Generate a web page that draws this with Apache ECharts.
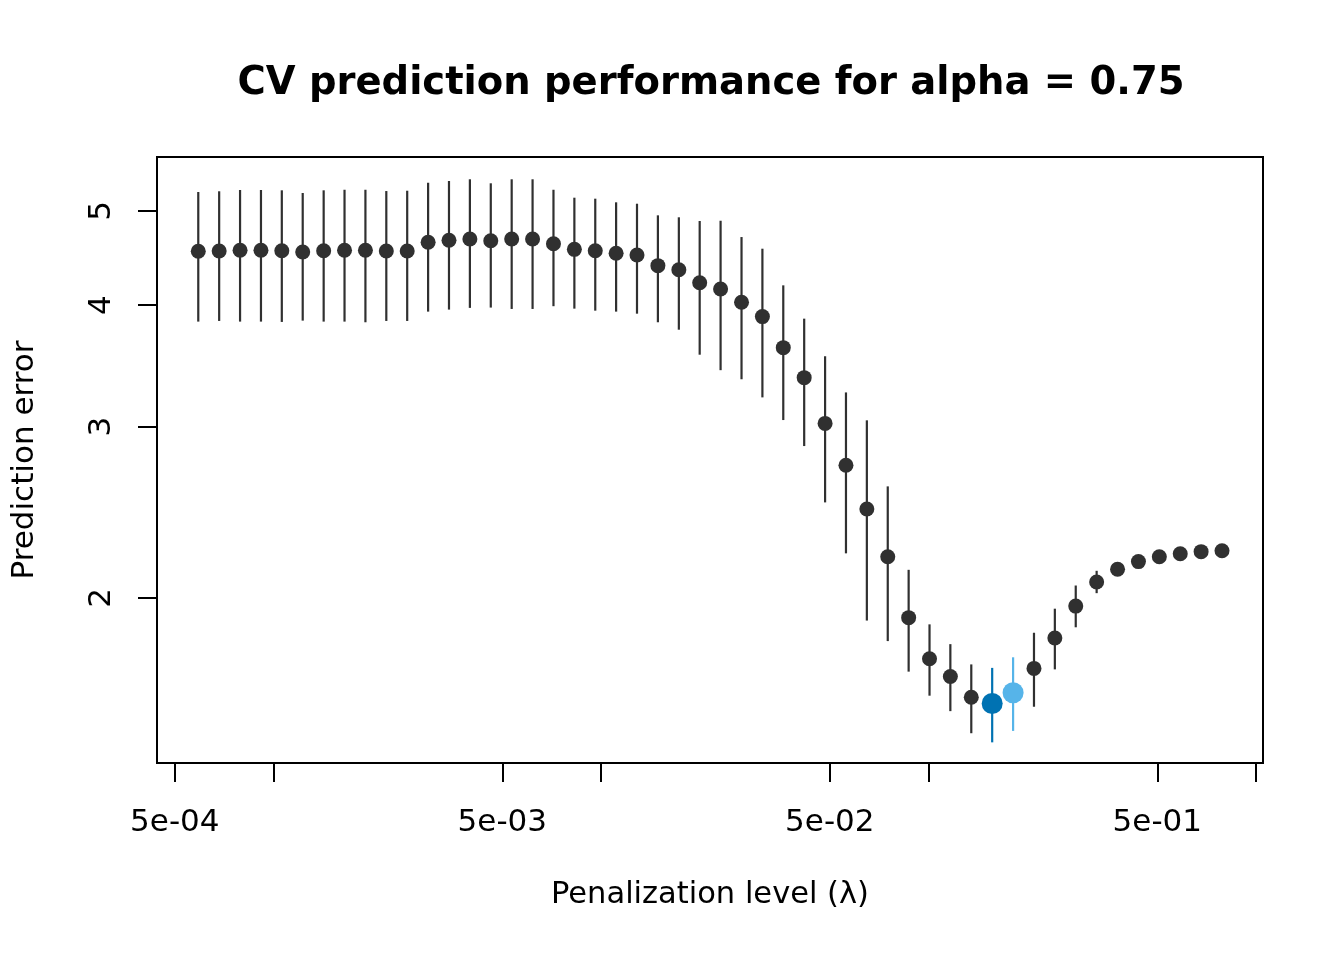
<!DOCTYPE html>
<html>
<head>
<meta charset="utf-8">
<script src="https://cdn.jsdelivr.net/npm/echarts@6/dist/echarts.min.js"></script>
<style>
  html, body { margin: 0; padding: 0; background: #fff; }
  #main { width: 1344px; height: 960px; }
</style>
</head>
<body>
<div id="main"></div>
<script>
// penalization levels (lambda) on the CV grid
var lambda = [5.897e-4, 6.830e-4, 7.911e-4, 9.164e-4, 1.061e-3, 1.229e-3, 1.424e-3, 1.649e-3, 1.910e-3, 2.212e-3,
  2.562e-3, 2.968e-3, 3.437e-3, 3.981e-3, 4.611e-3, 5.341e-3, 6.186e-3, 7.165e-3, 8.299e-3, 9.612e-3,
  1.113e-2, 1.289e-2, 1.493e-2, 1.730e-2, 2.003e-2, 2.320e-2, 2.688e-2, 3.113e-2, 3.605e-2, 4.176e-2,
  4.837e-2, 5.602e-2, 6.488e-2, 7.515e-2, 8.704e-2, 0.1008, 0.1167, 0.1352, 0.1566, 0.1814,
  0.2101, 0.2433, 0.2818, 0.3264, 0.3781, 0.4379, 0.5072, 0.5875, 0.6804, 0.7881];

// CV prediction error: estimate, lower and upper end of the bar
var cvMean = [4.545, 4.548, 4.556, 4.556, 4.551, 4.537, 4.551, 4.556, 4.556, 4.548,
  4.548, 4.643, 4.665, 4.679, 4.660, 4.679, 4.679, 4.627, 4.566, 4.551,
  4.524, 4.505, 4.393, 4.351, 4.219, 4.157, 4.029, 3.894, 3.618, 3.370,
  3.024, 2.739, 2.469, 2.205, 1.909, 1.732, 1.661, 1.581, 1.558, 1.598,
  1.693, 1.819, 1.962, 2.077, 2.141, 2.180, 2.205, 2.221, 2.232, 2.237];
var cvLower = [3.848, 3.854, 3.848, 3.848, 3.845, 3.857, 3.848, 3.848, 3.842, 3.854,
  3.854, 3.940, 3.959, 3.975, 3.978, 3.965, 3.965, 3.991, 3.968, 3.949,
  3.940, 3.921, 3.842, 3.775, 3.558, 3.430, 3.357, 3.216, 3.048, 2.866,
  2.508, 2.223, 1.896, 1.806, 1.680, 1.587, 1.530, 1.452, 1.421, 1.460,
  1.546, 1.689, 1.866, 2.023, 2.121, 2.165, 2.195, 2.213, 2.225, 2.231];
var cvUpper = [5.230, 5.239, 5.255, 5.255, 5.251, 5.218, 5.251, 5.258, 5.258, 5.242,
  5.246, 5.346, 5.368, 5.390, 5.339, 5.390, 5.390, 5.258, 5.160, 5.148,
  5.104, 5.087, 4.949, 4.926, 4.883, 4.886, 4.701, 4.573, 4.193, 3.875,
  3.545, 3.254, 3.046, 2.605, 2.138, 1.879, 1.793, 1.709, 1.695, 1.738,
  1.842, 1.950, 2.060, 2.133, 2.161, 2.195, 2.215, 2.229, 2.239, 2.243];

var bestIdx = 38;   // minimum CV error
var oneSeIdx = 39;  // 1-SE rule

// axis ticks
var xLabelValues = [5e-4, 5e-3, 5e-2, 5e-1];
var xLabelTexts = ['5e-04', '5e-03', '5e-02', '5e-01'];
var xTickValues = [5e-4, 1e-3, 5e-3, 1e-2, 5e-2, 1e-1, 5e-1, 1];
var yTickValues = [2, 3, 4, 5];

var colDark = '#303030', colBest = '#0072B2', colOneSe = '#56B4E9';
var font = 'DejaVu Sans';

function lg(v) { return Math.log10(v); }
function colorAt(i) { return i === bestIdx ? colBest : (i === oneSeIdx ? colOneSe : colDark); }

var barData = lambda.map(function (l, i) { return [lg(l), lg(cvLower[i]), lg(cvUpper[i])]; });
var pointData = lambda.map(function (l, i) {
  var big = (i === bestIdx || i === oneSeIdx);
  return { value: [lg(l), lg(cvMean[i])], symbolSize: big ? 21 : 15, itemStyle: { color: colorAt(i) } };
});

function nearestLabel(v, vals, texts) {
  for (var i = 0; i < vals.length; i++) {
    if (Math.abs(lg(vals[i]) - v) < 1e-6) return texts[i];
  }
  return '';
}

var myChart = echarts.init(document.getElementById('main'));

var option = {
  animation: false,
  backgroundColor: '#ffffff',
  title: {
    text: 'CV prediction performance for alpha = 0.75',
    left: 706,
    textAlign: 'center',
    top: 59,
    textStyle: { fontFamily: font, fontSize: 38.5, fontWeight: 'bold', color: '#000' }
  },
  grid: {
    left: 157, right: 81, top: 157, bottom: 197,
    show: true, borderColor: '#000', borderWidth: 2, backgroundColor: 'transparent'
  },
  xAxis: {
    type: 'value',
    min: -3.35538,
    max: 0.02172,
    name: 'Penalization level (λ)',
    nameLocation: 'middle',
    nameGap: 117,
    nameTextStyle: { fontFamily: font, fontSize: 30.5, color: '#000' },
    axisLine: { show: false, onZero: false },
    splitLine: { show: false },
    axisTick: {
      show: true, length: 19, inside: false,
      customValues: xTickValues.map(lg),
      lineStyle: { color: '#000', width: 2 }
    },
    axisLabel: {
      show: true, margin: 44,
      customValues: xLabelValues.map(lg),
      fontFamily: font, fontSize: 31, color: '#000',
      formatter: function (v) { return nearestLabel(v, xLabelValues, xLabelTexts); }
    }
  },
  yAxis: {
    type: 'value',
    min: 0.13136,
    max: 0.7545,
    name: 'Prediction error',
    nameLocation: 'middle',
    nameRotate: 90,
    nameGap: 117,
    nameTextStyle: { fontFamily: font, fontSize: 31, color: '#000' },
    axisLine: { show: false, onZero: false },
    splitLine: { show: false },
    axisTick: {
      show: true, length: 19, inside: false,
      customValues: yTickValues.map(lg),
      lineStyle: { color: '#000', width: 2 }
    },
    axisLabel: {
      show: true, margin: 40, rotate: 90,
      customValues: yTickValues.map(lg),
      fontFamily: font, fontSize: 31, color: '#000',
      formatter: function (v) { return nearestLabel(v, yTickValues, yTickValues.map(String)); }
    }
  },
  series: [
    {
      name: 'CV error range',
      type: 'custom',
      z: 2,
      data: barData,
      encode: { x: 0, y: [1, 2] },
      renderItem: function (params, api) {
        var p1 = api.coord([api.value(0), api.value(1)]);
        var p2 = api.coord([api.value(0), api.value(2)]);
        return {
          type: 'line',
          shape: { x1: p1[0], y1: p1[1], x2: p2[0], y2: p2[1] },
          style: { stroke: colorAt(params.dataIndex), lineWidth: 2.2 }
        };
      }
    },
    {
      name: 'CV error',
      type: 'scatter',
      z: 3,
      symbol: 'circle',
      itemStyle: { opacity: 1 },
      data: pointData
    }
  ]
};

myChart.setOption(option);
</script>
</body>
</html>
